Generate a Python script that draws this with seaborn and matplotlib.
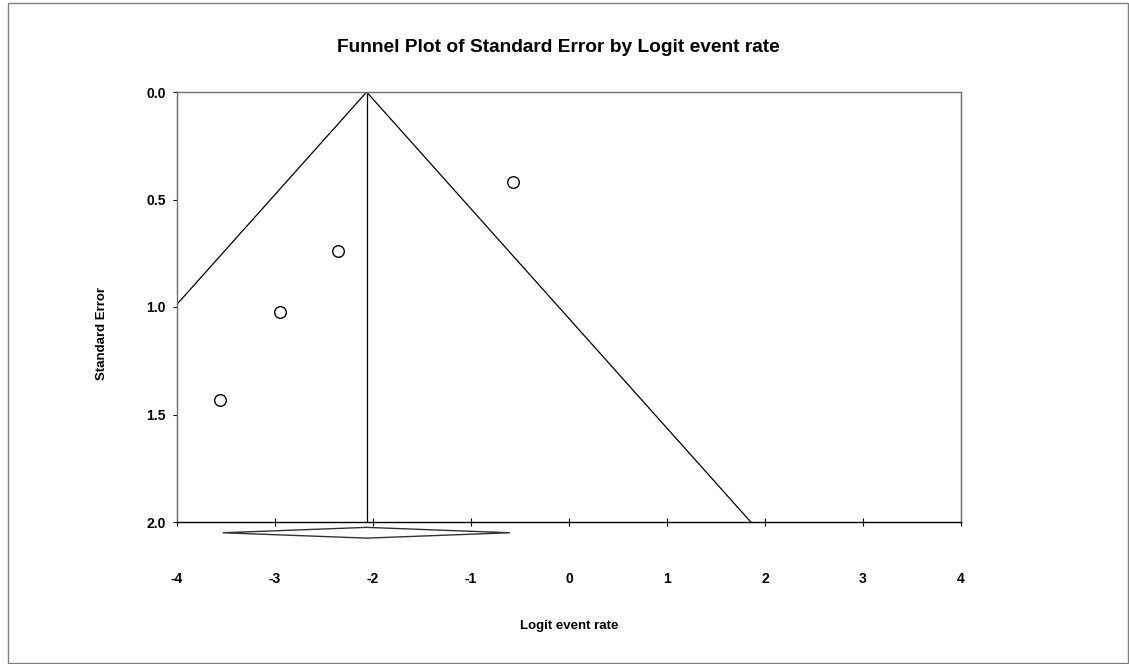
import matplotlib
matplotlib.use("Agg")
import matplotlib.pyplot as plt
import seaborn as sns
import pandas as pd
from matplotlib.patches import Polygon, Rectangle

# Data
logit_event_rate = [-0.574, -2.354, -2.949, -3.561]
standard_error = [0.419, 0.740, 1.025, 1.434]
pooled_estimate = -2.065
ci_lower = -3.534
ci_upper = -0.602
x_ticks = [-4, -3, -2, -1, 0, 1, 2, 3, 4]
y_ticks = [0.0, 0.5, 1.0, 1.5, 2.0]
max_se = 2.0

sns.set_theme(style="white")
plt.rcParams['font.family'] = ['Liberation Sans', 'DejaVu Sans']
plt.rcParams['text.color'] = 'black'
plt.rcParams['xtick.color'] = 'black'
plt.rcParams['ytick.color'] = 'black'

fig = plt.figure(figsize=(11.29, 6.64), dpi=100)
ax = fig.add_axes([177/1129, 1-522/664, (961-177)/1129, (522-92)/664])

df = pd.DataFrame({"x": logit_event_rate, "se": standard_error})

# funnel lines
z = 1.96
ax.plot([pooled_estimate, pooled_estimate], [0, max_se], color="black", lw=0.9)
ax.plot([pooled_estimate - z*max_se, pooled_estimate, pooled_estimate + z*max_se],
        [max_se, 0, max_se], color="black", lw=0.9)

sns.scatterplot(data=df, x="x", y="se", ax=ax, marker="o", s=70,
                facecolor="white", edgecolor="black", linewidth=1.0, zorder=5)

ax.set_xlim(x_ticks[0], x_ticks[-1])
ax.set_ylim(max_se, 0)
ax.set_xticks(x_ticks)
ax.set_yticks(y_ticks)
ax.set_xticklabels([f"{t}" for t in x_ticks], fontsize=10, fontweight="bold", color="black")
ax.set_yticklabels([f"{t:.1f}" for t in y_ticks], fontsize=10, fontweight="bold", color="black")
ax.tick_params(axis="x", direction="inout", length=6, width=0.8, color="black",
               labelcolor="black", pad=33, bottom=True)
ax.tick_params(axis="y", direction="out", length=3, width=0.8, color="black",
               labelcolor="black", pad=5, left=True)
ax.set_xlabel("")
ax.set_ylabel("")

for side in ["left", "top", "right"]:
    ax.spines[side].set_color("#707070")
    ax.spines[side].set_linewidth(1.0)
ax.spines["bottom"].set_color("black")
ax.spines["bottom"].set_linewidth(1.0)

# summary diamond below the axis
dy = 0.025
diamond = Polygon([[ci_lower, max_se + 2*dy], [pooled_estimate, max_se + dy],
                   [ci_upper, max_se + 2*dy], [pooled_estimate, max_se + 3*dy]],
                  closed=True, facecolor="white", edgecolor="#333333", lw=1.0,
                  clip_on=False, zorder=6)
ax.add_patch(diamond)

fig.text(558/1129, 1-48/664, "Funnel Plot of Standard Error by Logit event rate",
         ha="center", va="center", fontsize=13.8, fontweight="bold", color="black")
fig.text(569/1129, 1-626/664, "Logit event rate", ha="center", va="center",
         fontsize=9.5, fontweight="bold", color="black")
fig.text(101.7/1129, 1-334/664, "Standard Error", ha="center", va="center",
         rotation=90, fontsize=9.5, fontweight="bold", color="black")

fig.patches.append(Rectangle((8/1129, 1/664), 1120/1129, 660/664,
                             transform=fig.transFigure, fill=False,
                             edgecolor="#808080", lw=1.0))

fig.savefig("out.png", dpi=100)
